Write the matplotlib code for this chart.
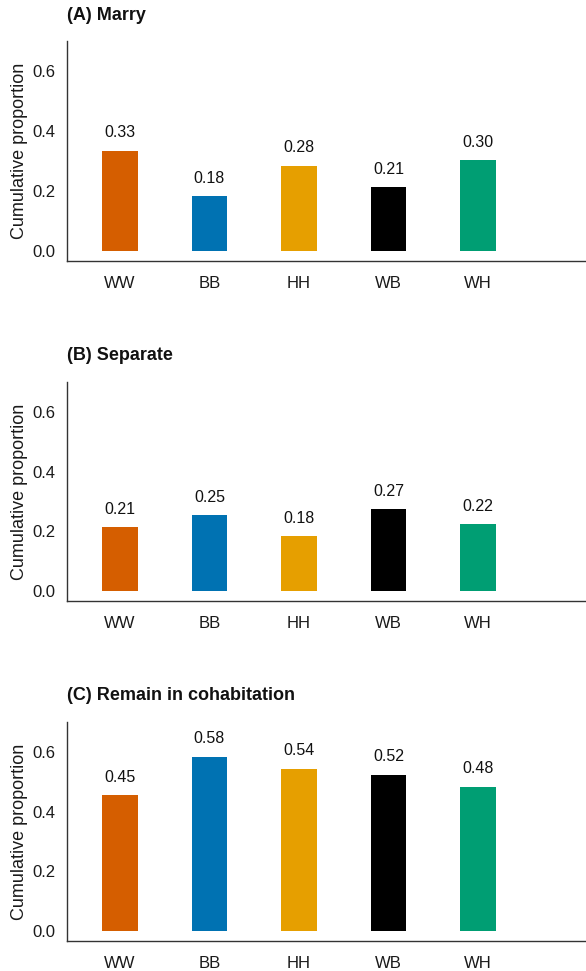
import matplotlib
matplotlib.use("Agg")
import matplotlib.pyplot as plt

plt.rcParams['font.family'] = ['Liberation Sans', 'DejaVu Sans']

# data
groups = ['WW', 'BB', 'HH', 'WB', 'WH']
colors = ['#D55E00', '#0072B2', '#E69F00', '#000000', '#009E73']
titles = ['(A) Marry', '(B) Separate', '(C) Remain in cohabitation']
marry = [0.334, 0.183, 0.284, 0.213, 0.303]
separate = [0.214, 0.254, 0.184, 0.274, 0.224]
remain = [0.454, 0.584, 0.544, 0.524, 0.484]
panels = [marry, separate, remain]

W, H = 586, 971
fig = plt.figure(figsize=(W / 100, H / 100), dpi=100)

# axes tops/bottoms in pixels
tops = [41, 382, 722]
bottoms = [261, 601, 941]
title_y = [15, 355, 695]
left_px = 67

x = list(range(1, len(groups) + 1))
for vals, title, top, bot, ty in zip(panels, titles, tops, bottoms, title_y):
    ax = fig.add_axes([left_px / W, 1 - bot / H, 1 - left_px / W, (bot - top) / H])
    ax.bar(x, vals, width=0.4, color=colors)
    for xi, v in zip(x, vals):
        ax.annotate(f'{v:.2f}', (xi, v), xytext=(0, 13), textcoords='offset points',
                    ha='center', va='center', fontsize=11.5, color='#111111')
    ax.set_xlim(0.408, 6.207)
    ax.set_ylim(-0.033, 0.70)
    ax.set_yticks([0.0, 0.2, 0.4, 0.6])
    ax.set_yticklabels(['0.0', '0.2', '0.4', '0.6'])
    ax.set_xticks(x)
    ax.set_xticklabels(groups)
    ax.tick_params(axis='both', length=0, labelsize=12, colors='#1a1a1a')
    ax.tick_params(axis='y', pad=8.5)
    ax.tick_params(axis='x', pad=11)
    for s in ['top', 'right']:
        ax.spines[s].set_visible(False)
    for s in ['left', 'bottom']:
        ax.spines[s].set_color('#333333')
        ax.spines[s].set_linewidth(1.0)
    ax.set_ylabel('Cumulative proportion', fontsize=13, color='#1a1a1a')
    ax.yaxis.set_label_coords(-(left_px - 28) / (W - left_px), 0.5)
    fig.text(left_px / W, 1 - ty / H, title, fontsize=13, fontweight='bold',
             ha='left', va='center', color='#111111')

fig.savefig('out.png', dpi=100)
